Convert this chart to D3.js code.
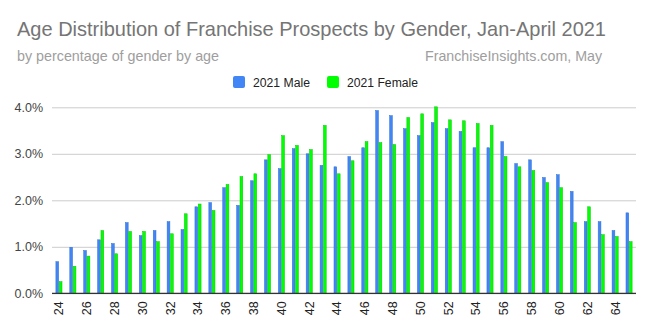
<!DOCTYPE html>
<html><head><meta charset="utf-8">
<script src="https://cdn.jsdelivr.net/npm/d3@7"></script>
<style>body{margin:0;background:#fff;} svg{display:block;font-family:"Liberation Sans",Arial,sans-serif;}</style>
</head><body>
<svg id="c" width="652" height="332"></svg>
<script>
const ages = [24,25,26,27,28,29,30,31,32,33,34,35,36,37,38,39,40,41,42,43,44,45,46,47,48,49,50,51,52,53,54,55,56,57,58,59,60,61,62,63,64,65];
const male = [0.68,0.99,0.92,1.15,1.07,1.52,1.24,1.35,1.54,1.37,1.86,1.95,2.27,1.89,2.42,2.87,2.68,3.11,3.00,2.75,2.72,2.94,3.13,3.93,3.82,3.54,3.39,3.67,3.54,3.48,3.13,3.13,3.26,2.79,2.87,2.49,2.55,2.19,1.54,1.54,1.35,1.73];
const female = [0.25,0.58,0.80,1.35,0.85,1.33,1.33,1.11,1.28,1.71,1.92,1.78,2.34,2.51,2.57,2.98,3.39,3.18,3.09,3.61,2.57,2.85,3.26,3.24,3.20,3.78,3.86,4.01,3.73,3.71,3.65,3.61,2.94,2.72,2.64,2.38,2.27,1.52,1.86,1.26,1.22,1.11];
const seriesNames = ["2021 Male","2021 Female"];
const yTicks = [0,1,2,3,4];
const xTickLabels = [24,26,28,30,32,34,36,38,40,42,44,46,48,50,52,54,56,58,60,62,64];
const colors = ["#4285f4","#00ff00"];
const strokes = ["#2f6fd8","#00c800"];

const svg = d3.select("#c");
const L = 52, R = 636, T = 107.3, B = 293.3;
const x0 = d3.scaleBand().domain(ages).range([L,R]).paddingInner(0.56).paddingOuter(0.28);
const x1 = d3.scaleBand().domain([0,1]).range([0,x0.bandwidth()]).paddingInner(0.18);
const y = d3.scaleLinear().domain([0,4]).range([B,T]);

// title
svg.append("text").attr("x",17).attr("y",36).attr("font-size",21).attr("fill","#757575")
  .attr("textLength",589).attr("lengthAdjust","spacingAndGlyphs")
  .text("Age Distribution of Franchise Prospects by Gender, Jan-April 2021");
svg.append("text").attr("x",17).attr("y",60.5).attr("font-size",14.5).attr("fill","#9e9e9e")
  .attr("textLength",202).attr("lengthAdjust","spacingAndGlyphs")
  .text("by percentage of gender by age");
svg.append("text").attr("x",425).attr("y",60.5).attr("font-size",14.5).attr("fill","#9e9e9e")
  .attr("textLength",177).attr("lengthAdjust","spacingAndGlyphs")
  .text("FranchiseInsights.com, May");

// legend
const leg = [{x:233,tx:253,tl:57},{x:327,tx:347,tl:71}];
leg.forEach((d,i)=>{
  svg.append("rect").attr("x",d.x).attr("y",76).attr("width",12).attr("height",12).attr("rx",2).attr("fill",colors[i]);
  svg.append("text").attr("x",d.tx).attr("y",86.5).attr("font-size",12.5).attr("fill","#222")
    .attr("textLength",d.tl).attr("lengthAdjust","spacingAndGlyphs").text(seriesNames[i]);
});

// y axis grid
const yAxis = svg.append("g").attr("transform",`translate(${L},0)`)
  .call(d3.axisLeft(y).tickValues(yTicks).tickSize(-(R-L)).tickFormat(d=>d.toFixed(1)+"%"));
yAxis.select(".domain").remove();
yAxis.selectAll(".tick line").attr("stroke","#cccccc").attr("stroke-width",1);
yAxis.selectAll(".tick text").attr("x",-9).attr("fill","#444").attr("font-size",12.5)
  .attr("font-family","Liberation Sans, Arial, sans-serif");

// bars
const g = svg.append("g");
const data = ages.map((a,i)=>({age:a, vals:[male[i],female[i]]}));
const grp = g.selectAll("g").data(data).join("g").attr("transform",d=>`translate(${x0(d.age)},0)`);
grp.selectAll("rect").data(d=>d.vals.map((v,k)=>({v,k}))).join("rect")
  .attr("x",d=>x1(d.k)).attr("width",x1.bandwidth())
  .attr("y",d=>y(d.v)).attr("height",d=>B-y(d.v))
  .attr("fill",d=>colors[d.k]).attr("stroke",d=>strokes[d.k]).attr("stroke-width",0.5);

// baseline
svg.append("line").attr("x1",L).attr("x2",R).attr("y1",B).attr("y2",B).attr("stroke","#333").attr("stroke-width",1.2);

// x axis
const xAxis = svg.append("g").attr("transform",`translate(0,${B})`)
  .call(d3.axisBottom(x0).tickValues(xTickLabels).tickSize(0));
xAxis.select(".domain").remove();
xAxis.selectAll(".tick text").attr("transform","rotate(-90)").attr("text-anchor","end")
  .attr("x",-8).attr("y",0).attr("dy","0.35em").attr("fill","#222").attr("font-size",12.5)
  .attr("font-family","Liberation Sans, Arial, sans-serif");
</script>
</body></html>
